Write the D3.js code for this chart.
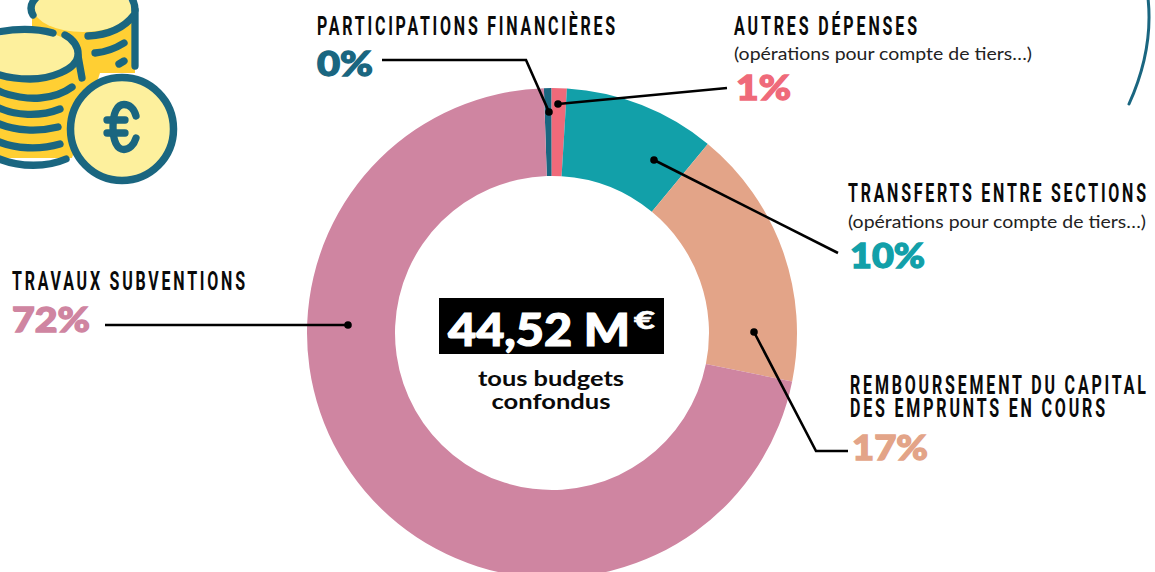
<!DOCTYPE html>
<html><head><meta charset="utf-8">
<script src="https://cdn.jsdelivr.net/npm/d3@7"></script>
<style>html,body{margin:0;padding:0;background:#fff;overflow:hidden}svg{display:block}</style>
</head><body><svg id="c" width="1155" height="572"></svg>
<script>
const categories=["Participations financières","Autres dépenses","Transferts entre sections","Remboursement du capital des emprunts en cours","Travaux subventions"];
const values=[0.5,1,10,17.2,71.3];
const percentLabels=["0%","1%","10%","17%","72%"];
const colors=["#1a6680","#ef6a7a","#12a0a9","#e3a488","#cf85a1"];
const headings=[
 {lines:[{t:"PARTICIPATIONS FINANCIÈRES",w:298}],x:317,y:34.5},
 {lines:[{t:"AUTRES DÉPENSES",w:183}],x:734,y:34.5},
 {lines:[{t:"TRANSFERTS ENTRE SECTIONS",w:298}],x:848,y:202},
 {lines:[{t:"REMBOURSEMENT DU CAPITAL",w:296},{t:"DES EMPRUNTS EN COURS",w:255}],x:850,y:393.5},
 {lines:[{t:"TRAVAUX SUBVENTIONS",w:233}],x:12,y:290}];
const notes=[{t:"(opérations pour compte de tiers…)",x:734,y:60,w:298},{t:"(opérations pour compte de tiers…)",x:848,y:228,w:298}];
const percentPos=[{x:317,y:76,w:56},{x:736,y:100,w:55},{x:850,y:268,w:75},{x:852,y:460,w:76},{x:12,y:332,w:78}];
const leaders=[
 [[382,60],[526,60],[549,112]],
 [[727,88],[558,104]],
 [[838,253],[654,160]],
 [[848,451],[816,451],[754,332]],
 [[105,325],[348,325]]];

const svg=d3.select("#c");
const cx=552,cy=333,R=245,r=157;

// coin icon
const ic="#1a6680",yl="#ffcf33",lt="#fdf09d";
const g=svg.append("g");
g.append("path").attr("fill",yl).attr("d","M32 10H135V73H100L72 158H0V60H32Z");
g.append("ellipse").attr("cx",83).attr("cy",9).attr("rx",49).attr("ry",23).attr("fill",lt);
g.append("ellipse").attr("cx",29).attr("cy",55).attr("rx",49).attr("ry",24).attr("fill",lt);
const stroke=(d,w=7.3)=>g.append("path").attr("d",d).attr("fill","none").attr("stroke",ic).attr("stroke-width",w).attr("stroke-linecap","round");
stroke("M33 15C29 8 32 2 36 -2");
stroke("M135 10C135 5 133 0 131 -3");
stroke("M135 10V66");
stroke("M88 36C108 35 124 28 134 15");
stroke("M95 53C106 52 116 48 124 43");
stroke("M119 64L124 61");
stroke("M-2 32C20 28 38 29 53 33");
stroke("M65 35C73 39 79 47 78 56C76 70 50 79 30 79C16 79 5 77 -3 74");
stroke("M78 56L82 78");
stroke("M-3 90C10 97 30 99 40 98C52 97 64 93 72 87");
stroke("M-3 107C15 116 40 117 60 109");
stroke("M-3 123C15 131 38 132 58 127");
stroke("M-3 141C15 149 40 150 60 144");
stroke("M-3 158C20 168 48 167 66 159");
g.append("circle").attr("cx",122).attr("cy",129).attr("r",51.5).attr("fill",lt).attr("stroke",ic).attr("stroke-width",7.5);
stroke("M136 116C134 108 129 104.5 124 104.5C117 104.5 113 113 113 127C113 141 117 149.5 124 149.5C129 149.5 134 145 136 138");
stroke("M107 120H125");
stroke("M107 133H125");

// big arc
svg.append("path").attr("d","M1129 104C1143 73 1152 35 1148 -2").attr("fill","none").attr("stroke",ic).attr("stroke-width",3).attr("stroke-linecap","round");

// donut
const startA=-1.9*Math.PI/180;
const pie=d3.pie().sort(null).startAngle(startA).endAngle(startA+2*Math.PI)(values);
const arc=d3.arc().innerRadius(r).outerRadius(R);
svg.append("g").attr("transform",`translate(${cx},${cy})`).selectAll("path").data(pie).join("path")
 .attr("d",arc).attr("fill",(d,i)=>colors[i]);

// leaders
const line=d3.line();
svg.append("g").selectAll("path").data(leaders).join("path").attr("d",line).attr("fill","none").attr("stroke","#000").attr("stroke-width",2.6);
svg.append("g").selectAll("circle").data(leaders).join("circle")
 .attr("cx",d=>d[d.length-1][0]).attr("cy",d=>d[d.length-1][1]).attr("r",3.8).attr("fill","#000");

// text
const sx=0.64;
svg.append("g").selectAll("text").data(headings).join("text")
 .attr("transform",d=>`translate(${d.x},${d.y}) scale(${sx},1)`)
 .attr("font-family","Roboto,'Liberation Sans'").attr("font-weight",700).attr("font-size",25).attr("fill","#0a0a0a")
 .selectAll("tspan").data(d=>d.lines).join("tspan")
 .attr("x",0).attr("y",(d,i)=>i*24).attr("textLength",d=>d.w/sx).attr("lengthAdjust","spacing").text(d=>d.t);
svg.append("g").selectAll("text").data(notes).join("text")
 .attr("x",d=>d.x).attr("y",d=>d.y).attr("textLength",d=>d.w).attr("lengthAdjust","spacingAndGlyphs")
 .attr("font-family","Lato,'Open Sans'").attr("font-size",17.5).attr("fill","#222").text(d=>d.t);
svg.append("g").selectAll("text").data(percentPos).join("text")
 .attr("x",d=>d.x).attr("y",d=>d.y).attr("textLength",d=>d.w).attr("lengthAdjust","spacingAndGlyphs")
 .attr("font-family","Lato").attr("font-weight",900).attr("font-size",34).attr("fill",(d,i)=>colors[i])
 .attr("stroke",(d,i)=>colors[i]).attr("stroke-width",1.3).text((d,i)=>percentLabels[i]);

// centre
svg.append("rect").attr("x",439).attr("y",298).attr("width",225).attr("height",56).attr("fill","#000");
svg.append("text").attr("x",448).attr("y",346).attr("textLength",182).attr("lengthAdjust","spacingAndGlyphs")
 .attr("font-family","Lato").attr("font-weight",900).attr("font-size",45).attr("fill","#fff").attr("stroke","#fff").attr("stroke-width",1.2).text("44,52 M");
svg.append("text").attr("x",634).attr("y",328.5).attr("textLength",21).attr("lengthAdjust","spacingAndGlyphs").attr("font-family","Lato").attr("font-weight",900).attr("font-size",24).attr("fill","#fff").attr("stroke","#fff").attr("stroke-width",.6).text("€");
const centre=[{t:"tous budgets",y:386,w:146},{t:"confondus",y:409,w:119}];
svg.append("g").selectAll("text").data(centre).join("text")
 .attr("x",551).attr("y",d=>d.y).attr("text-anchor","middle").attr("textLength",d=>d.w).attr("lengthAdjust","spacingAndGlyphs")
 .attr("font-family","Lato").attr("font-weight",700).attr("font-size",21).attr("fill","#0a0a0a").text(d=>d.t);
</script></body></html>
